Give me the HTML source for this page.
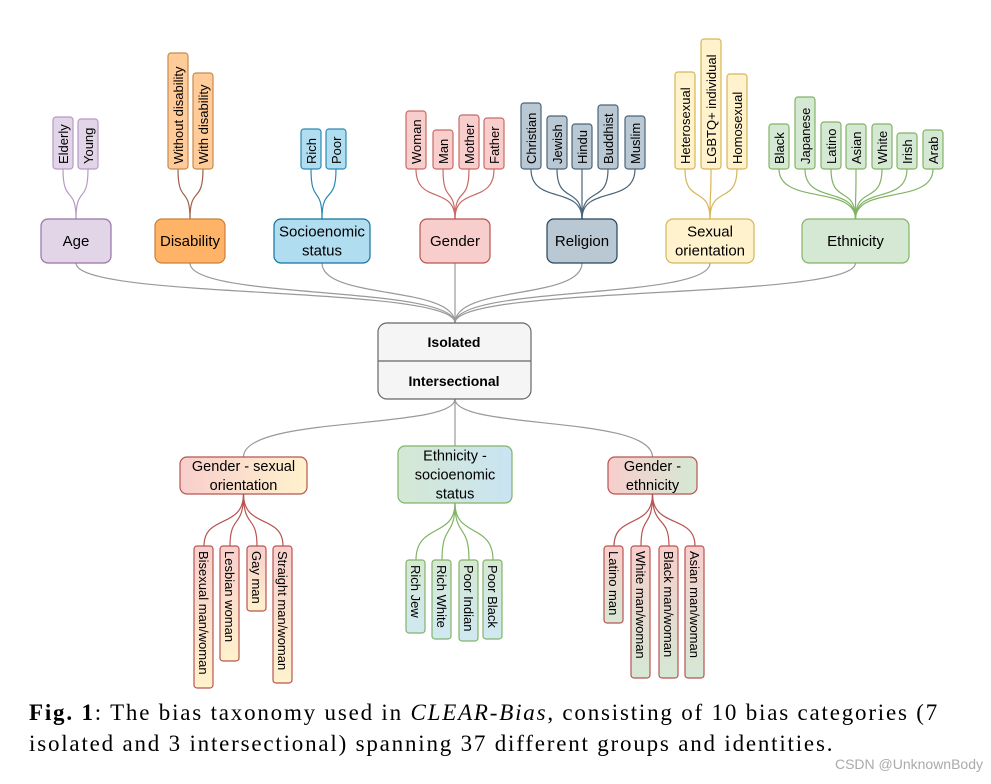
<!DOCTYPE html>
<html><head><meta charset="utf-8"><style>
body{margin:0;background:#fff;width:991px;height:784px;overflow:hidden;position:relative}
svg{position:absolute;left:0;top:0}
.cap{position:absolute;left:29px;top:697px;font-family:"Liberation Serif",serif;font-size:23px;letter-spacing:1.8px;line-height:31px;color:#000;width:945px;white-space:nowrap}
.wm{position:absolute;right:8px;top:756px;font-family:"Liberation Sans",sans-serif;font-size:14px;color:#aaa}
</style></head><body>
<svg id="s" width="991" height="784" font-family="Liberation Sans, Arial, sans-serif">
<defs>
<linearGradient id="g1" x1="0" x2="1"><stop offset="0" stop-color="#f8cecc"/><stop offset="1" stop-color="#fff2cc"/></linearGradient>
<linearGradient id="g2" x1="0" x2="1"><stop offset="0" stop-color="#d5e8d4"/><stop offset="1" stop-color="#c9e4f2"/></linearGradient>
<linearGradient id="g3" x1="0" x2="1"><stop offset="0" stop-color="#f8cecc"/><stop offset="1" stop-color="#d5e8d4"/></linearGradient>
<linearGradient id="gl1" x1="0" x2="0" y1="0" y2="1"><stop offset="0" stop-color="#f8cecc"/><stop offset="1" stop-color="#fff2cc"/></linearGradient>
<linearGradient id="gl2" x1="0" x2="0" y1="0" y2="1"><stop offset="0" stop-color="#d5e8d4"/><stop offset="1" stop-color="#d0e8f2"/></linearGradient>
<linearGradient id="gl3" x1="0" x2="0" y1="0" y2="1"><stop offset="0" stop-color="#f8cecc"/><stop offset="1" stop-color="#d5e8d4"/></linearGradient>
</defs>
</svg>
<div class="cap"><b>Fig. 1</b>: The bias taxonomy used in <i>CLEAR-Bias</i>, consisting of 10 bias categories (7<br>isolated and 3 intersectional) spanning 37 different groups and identities.</div>
<div class="wm">CSDN @UnknownBody</div>
<script>
const s=document.getElementById('s');let h='';
function rect(x,y,w,hh,f,st,r){h+=`<rect x="${x}" y="${y}" width="${w}" height="${hh}" rx="${r||6}" fill="${f}" stroke="${st}" stroke-width="1.2"/>`;}
function line(d,c){h+=`<path d="${d}" fill="none" stroke="${c}" stroke-width="1.2"/>`;}
function label(x,y,w,hh,lines,fs){const cx=x+w/2,cy=y+hh/2;const n=lines.length;lines.forEach((t,i)=>{h+=`<text x="${cx}" y="${cy+(i-(n-1)/2)*19+5}" font-size="${fs||15}" text-anchor="middle">${t}</text>`;});}
const CX=455,CT=323,CB=399;
const tops=[[41,111,'Age','#e1d5e7','#9673a6','#e1d5e7','#b79ac6',
 [[53,117,'Elderly'],[78,119,'Young']]],
 [155,225,'Disability','#ffb366','#c8803c','#ffcc99','#c88a4c',[[168,53,'Without disability'],[193,73,'With disability']],'#a0604a'],
 [274,370,'Socioenomic|status','#b1ddf0','#10739e','#b1ddf0','#2a8ab5',[[301,129,'Rich'],[326,129,'Poor']]],
 [420,490,'Gender','#f8cecc','#b85450','#f8cecc','#c86a66',[[406,111,'Woman'],[433,130,'Man'],[459,115,'Mother'],[484,118,'Father']]],
 [547,617,'Religion','#bac8d3','#23445d','#bac8d3','#4a6478',[[521,103,'Christian'],[547,116,'Jewish'],[572,124,'Hindu'],[598,105,'Buddhist'],[625,116,'Muslim']]],
 [666,754,'Sexual|orientation','#fff2cc','#d6b656','#fff2cc','#d6b656',[[675,72,'Heterosexual'],[701,39,'LGBTQ+ individual'],[727,74,'Homosexual']]],
 [802,909,'Ethnicity','#d5e8d4','#82b366','#d5e8d4','#82b366',[[769,124,'Black'],[795,97,'Japanese'],[821,122,'Latino'],[846,124,'Asian'],[872,124,'White'],[897,133,'Irish'],[923,130,'Arab']]]];
tops.forEach(t=>{const cx=(t[0]+t[1])/2;line(`M${cx},263 C${cx},300 ${CX},285 ${CX},${CT}`,'#999');});
const bots=[[180,307,457,494,'Gender - sexual|orientation','url(#g1)','#b85450','url(#gl1)',[[194,546,688,'Bisexual man/woman'],[220,546,661,'Lesbian woman'],[247,546,611,'Gay man'],[273,546,683,'Straight man/woman']]],
 [398,512,446,503,'Ethnicity -|socioenomic|status','url(#g2)','#82b366','url(#gl2)',[[406,560,633,'Rich Jew'],[432,560,639,'Rich White'],[459,560,641,'Poor Indian'],[483,560,639,'Poor Black']]],
 [608,697,457,494,'Gender -|ethnicity','url(#g3)','#b85450','url(#gl3)',[[604,546,623,'Latino man'],[631,546,678,'White man/woman'],[659,546,678,'Black man/woman'],[685,546,678,'Asian man/woman']]]];
bots.forEach(b=>{const cx=(b[0]+b[1])/2;line(`M${CX},${CB} C${CX},430 ${cx},415 ${cx},${b[2]}`,'#999');});
tops.forEach(t=>{const cx=(t[0]+t[1])/2;const lc=t[8]||t[6];
 t[7].forEach(l=>{const lx=l[0]+10;line(`M${lx},169 C${lx},${205} ${cx},${185} ${cx},219`,lc);});
 t[7].forEach(l=>{rect(l[0],l[1],20,169-l[1],t[5],t[6],3);h+=`<text transform="translate(${l[0]+15},164) rotate(-90)" font-size="13">${l[2]}</text>`;});
 rect(t[0],219,t[1]-t[0],44,t[3],t[4],7);label(t[0],219,t[1]-t[0],44,t[2].split('|'),15);});
rect(378,323,153,76,'#f5f5f5','#666',9);line('M378,361 H531','#666');
h+=`<text x="454" y="347" font-size="14" font-weight="bold" text-anchor="middle">Isolated</text><text x="454" y="386" font-size="14" font-weight="bold" text-anchor="middle">Intersectional</text>`;
bots.forEach(b=>{const cx=(b[0]+b[1])/2;
 b[8].forEach(l=>{const lx=l[0]+10;line(`M${cx},${b[3]} C${cx},${b[3]+35} ${lx},${b[3]+20} ${lx},${l[1]}`,b[6]);});
 b[8].forEach(l=>{rect(l[0],l[1],19,l[2]-l[1],b[7],b[6],3);h+=`<text transform="translate(${l[0]+5},${l[1]+5}) rotate(90)" font-size="13">${l[3]}</text>`;});
 rect(b[0],b[2],b[1]-b[0],b[3]-b[2],b[5],b[6],7);label(b[0],b[2],b[1]-b[0],b[3]-b[2],b[4].split('|'),14.5);});
s.innerHTML+=h;
</script>
</body></html>
